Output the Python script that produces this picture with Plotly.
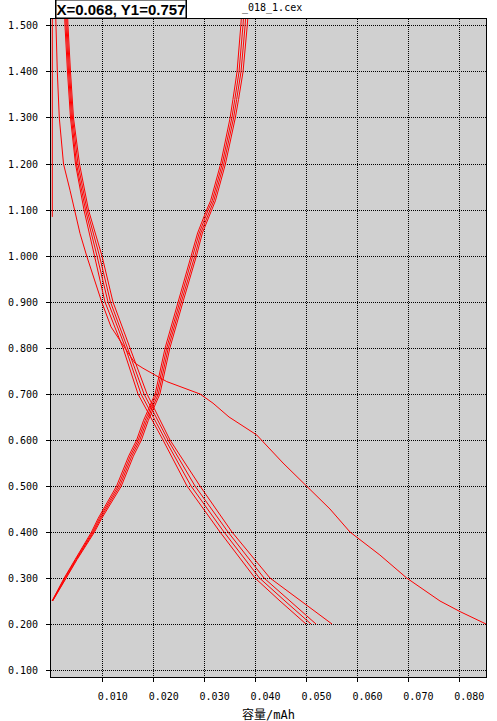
import plotly.graph_objects as go

# ── Paleta ───────────────────────────────────────────────────────────────────
C_LINE = "#ff0000"
C_PLOT = "#d0d0d0"
C_TEXT = "#000000"
MONO = "DejaVu Sans Mono, Liberation Mono, monospace"
CJK = "DejaVu Sans Mono, Noto Sans CJK JP, monospace"

# ── Datos (capacidad en mAh, tensión en V) ───────────────────────────────────
# primera descarga (con meseta ~0.72 V)
dis1_v = [1.52, 1.50, 1.40, 1.30, 1.23, 1.20, 1.143, 1.10, 1.049, 1.00, 0.948,
          0.90, 0.846, 0.80, 0.767, 0.756, 0.741, 0.727, 0.70, 0.68, 0.65,
          0.611, 0.55, 0.50, 0.45, 0.40, 0.35, 0.30, 0.25, 0.227, 0.20]
dis1_q = [0.00077, 0.00082, 0.00108, 0.00147, 0.00206, 0.00230, 0.00357,
          0.00442, 0.00554, 0.00685, 0.00834, 0.00980, 0.01162, 0.01437,
          0.01633, 0.01790, 0.02026, 0.02256, 0.02910, 0.03165, 0.03479,
          0.04022, 0.04539, 0.04990, 0.05461, 0.05854, 0.06441, 0.06967,
          0.07621, 0.08014, 0.08524]

# tramo vertical a capacidad ~0
rest_q = [0.0001, 0.0001]
rest_v = [1.085, 1.53]

# descargas siguientes
dis_v = [1.53, 1.50, 1.40, 1.30, 1.20, 1.10, 1.00, 0.90, 0.80, 0.70, 0.60,
         0.50, 0.40, 0.30, 0.25, 0.20]
dis2_q = [0.00249, 0.00259, 0.00308, 0.00367, 0.00465, 0.00632, 0.00838,
          0.01044, 0.01398, 0.01692, 0.02183, 0.02654, 0.03302, 0.03989,
          0.04480, 0.04990]
dis3_q = [0.00269, 0.00279, 0.00328, 0.00387, 0.00485, 0.00662, 0.00887,
          0.01103, 0.01447, 0.01751, 0.02232, 0.02733, 0.03380, 0.04077,
          0.04578, 0.05088]
dis4_q = [0.00289, 0.00298, 0.00347, 0.00406, 0.00514, 0.00691, 0.00936,
          0.01152, 0.01486, 0.01810, 0.02281, 0.02811, 0.03459, 0.04166,
          0.04676, 0.05186]
dis5_q = [0.00308, 0.00318, 0.00367, 0.00426, 0.00544, 0.00720, 0.00985,
          0.01201, 0.01535, 0.01869, 0.02320, 0.02909, 0.03537, 0.04283,
          0.04892, 0.05500]

# cargas
chg_v = [0.25, 0.30, 0.34, 0.40, 0.43, 0.50, 0.565, 0.60, 0.643, 0.70, 0.80,
         0.90, 0.97, 1.00, 1.05, 1.10, 1.12, 1.20, 1.27, 1.30, 1.34, 1.40,
         1.50, 1.53]
chg1_q = [0.00004, 0.00243, 0.00456, 0.00779, 0.00911, 0.01272, 0.01508,
          0.01665, 0.01802, 0.02028, 0.02224, 0.02479, 0.02666, 0.02744,
          0.02862, 0.03039, 0.03117, 0.03314, 0.03447, 0.03500, 0.03555,
          0.03636, 0.03710, 0.03730]
chg2_q = [0.00008, 0.00254, 0.00469, 0.00799, 0.00935, 0.01304, 0.01539,
          0.01696, 0.01834, 0.02059, 0.02256, 0.02511, 0.02697, 0.02776,
          0.02894, 0.03070, 0.03149, 0.03345, 0.03481, 0.03534, 0.03592,
          0.03675, 0.03752, 0.03772]
chg3_q = [0.00012, 0.00264, 0.00482, 0.00819, 0.00958, 0.01335, 0.01570,
          0.01727, 0.01865, 0.02091, 0.02287, 0.02542, 0.02729, 0.02807,
          0.02925, 0.03102, 0.03180, 0.03376, 0.03515, 0.03568, 0.03628,
          0.03714, 0.03794, 0.03813]
chg4_q = [0.00016, 0.00275, 0.00495, 0.00838, 0.00982, 0.01366, 0.01602,
          0.01759, 0.01896, 0.02122, 0.02318, 0.02574, 0.02760, 0.02839,
          0.02956, 0.03133, 0.03212, 0.03408, 0.03549, 0.03602, 0.03665,
          0.03754, 0.03836, 0.03856]

x_ticks = [0.010, 0.020, 0.030, 0.040, 0.050, 0.060, 0.070, 0.080]
y_ticks = [0.1, 0.2, 0.3, 0.4, 0.5, 0.6, 0.7, 0.8, 0.9, 1.0, 1.1, 1.2, 1.3,
           1.4, 1.5]

series = [
    (rest_q, rest_v),
    (dis1_q, dis1_v),
    (dis2_q, dis_v), (dis3_q, dis_v), (dis4_q, dis_v), (dis5_q, dis_v),
    (chg1_q, chg_v), (chg2_q, chg_v), (chg3_q, chg_v), (chg4_q, chg_v),
]

fig = go.Figure()
for q, v in series:
    fig.add_trace(go.Scatter(
        x=q, y=v, mode="lines",
        line=dict(color=C_LINE, width=1),
        showlegend=False, hoverinfo="skip",
    ))

axis_common = dict(
    showline=True, linecolor=C_TEXT, linewidth=1, mirror=True,
    showgrid=True, gridcolor=C_TEXT, gridwidth=1, griddash="1px,1px",
    zeroline=False, ticks="outside", ticklen=4, tickcolor=C_TEXT,
    tickfont=dict(family=MONO, size=10, color=C_TEXT),
    automargin=False,
)

fig.update_xaxes(
    range=[-0.00016, 0.08524],
    tickmode="array", tickvals=x_ticks,
    ticktext=[f"{t:.3f}" for t in x_ticks],
    ticklabelshift=10, ticklabelstandoff=6,
    **axis_common,
)
fig.update_yaxes(
    range=[0.0848, 1.5152],
    tickmode="array", tickvals=y_ticks,
    ticktext=[f"{t:.3f}" for t in y_ticks],
    ticklabelstandoff=6,
    **axis_common,
)

fig.update_layout(
    width=497, height=721,
    margin=dict(l=51, r=11, t=19, b=44),
    paper_bgcolor="#ffffff", plot_bgcolor=C_PLOT,
    showlegend=False,
    annotations=[
        dict(text="<b>X=0.068, Y1=0.757</b>", xref="paper", yref="paper",
             x=0.0085, y=1.0, xanchor="left", yanchor="bottom",
             showarrow=False, bgcolor="#ffffff", bordercolor=C_TEXT,
             borderwidth=1.5, borderpad=0,
             font=dict(family="Liberation Sans, Arial, sans-serif",
                       size=15, color=C_TEXT)),
        dict(text="_018_1.cex", xref="paper", yref="paper",
             x=(240 - 51) / 435, y=(677 - 8) / 658,
             xanchor="left", yanchor="middle", showarrow=False,
             font=dict(family=MONO, size=10, color=C_TEXT)),
        dict(text="容量/mAh", xref="paper", yref="paper",
             x=0.5, y=(677 - 715) / 658, xanchor="center", yanchor="middle",
             showarrow=False, font=dict(family=CJK, size=12, color=C_TEXT)),
        dict(text="電圧/V", xref="paper", yref="paper",
             x=(2 - 51) / 435, y=0.5, xanchor="right", yanchor="middle",
             textangle=-90, showarrow=False,
             font=dict(family=CJK, size=12, color=C_TEXT)),
    ],
)

# quitar el margen por defecto de <body> para que el lienzo empiece en (0, 0)
fig.write_html("out.html", config={"displayModeBar": False},
               post_script="document.body.style.margin = '0';")
